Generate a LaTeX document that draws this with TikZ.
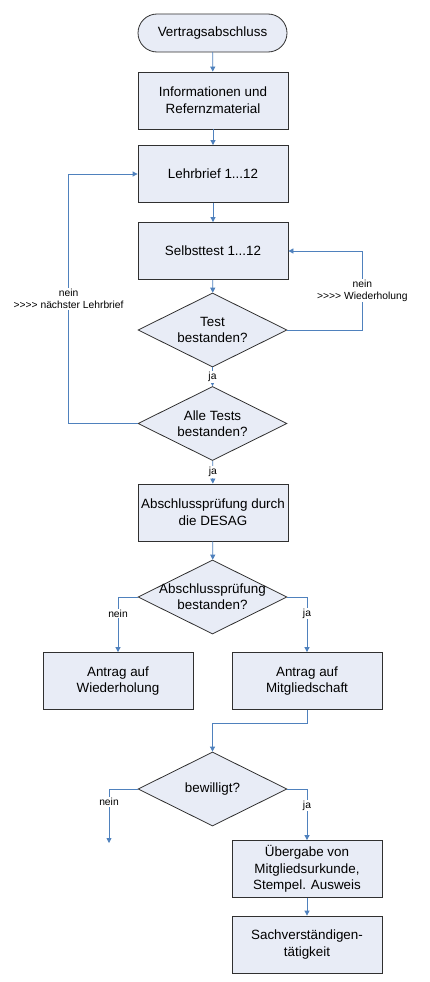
\documentclass[tikz,border=0pt]{standalone}
\usepackage{fontspec}
\setmainfont{Liberation Sans}
\usetikzlibrary{shapes.geometric}
\usetikzlibrary{arrows.meta}
\usetikzlibrary{positioning}
\definecolor{boxfill}{HTML}{E8ECF6}
\definecolor{flowblue}{HTML}{4F81BD}
\definecolor{boxline}{HTML}{303030}
\newcommand{\fourgt}{>\kern0pt>\kern0pt>\kern0pt>}

\begin{document}
\begin{tikzpicture}[x=1pt,y=-1pt,
  box/.style={draw=boxline, fill=boxfill, line width=0.8pt, minimum width=150pt,
    minimum height=57pt, inner sep=2pt, align=center, font=\fontsize{13.4}{16.75}\selectfont},
  term/.style={box, minimum width=149pt, minimum height=38pt, rounded corners=19pt},
  dec/.style={diamond, draw=boxline, fill=boxfill, line width=0.8pt,
    minimum width=149pt, minimum height=74pt, inner sep=0pt},
  dectext/.style={align=center, font=\fontsize{13.4}{16}\selectfont},
  arr/.style={draw=flowblue, line width=0.8pt, -{Triangle[length=5pt,width=5pt]}},
  lbl/.style={fill=white, inner sep=1pt, align=center, font=\fontsize{10.3}{12.3}\selectfont}]
\useasboundingbox[fill=white] (0,0) rectangle (430,982);

  \node[term] (start) at (212.5,33) {Vertragsabschluss};
  \node[box] (info) at (213,100.5) {Informationen und\\Refernzmaterial};
  \node[box] (lehr) at (213,174) {Lehrbrief 1...12};
  \node[box] (selbst) at (213,251) {Selbsttest 1...12};
  \node[dec, label={[dectext]center:Test\\bestanden?}] (test) at (212.5,330) {};
  \node[dec, label={[dectext]center:Alle Tests\\bestanden?}] (alle) at (212.5,423.5) {};
  \node[box] (absch) at (213,512.5) {Abschlussprüfung durch\\die DESAG};
  \node[dec, label={[dectext]center:Abschlussprüfung\\bestanden?}] (pruef) at (212.5,597) {};
  \node[box] (wied) at (118,681) {Antrag auf\\Wiederholung};
  \node[box] (mitg) at (307,681) {Antrag auf\\Mitgliedschaft};
  \node[dec, label={[dectext]center:bewilligt?}] (bew) at (212.5,789) {};
  \node[box] (ueber) at (307,869) {Übergabe von\\Mitgliedsurkunde,\\Stempel. Ausweis};
  \node[box] (sach) at (307,944.5) {Sachverständigen-\\tätigkeit};
  \coordinate (nend) at (109,843);

  \draw[arr] (start) -- (info);
  \draw[arr] (info) -- (lehr);
  \draw[arr] (lehr) -- (selbst);
  \draw[arr] (selbst) -- (test);
  \draw[arr] (test.east) -- ++(75,0) |- node[pos=0.25, lbl] {nein\\\fourgt{} Wiederholung} (selbst.east);
  \draw[arr] (test) -- node[lbl] {ja} (alle);
  \draw[arr] (alle.west) -- ++(-69,0) |- node[pos=0.25, lbl] {nein\\\fourgt{} nächster Lehrbrief} (lehr.west);
  \draw[arr] (alle) -- node[lbl] {ja} (absch);
  \draw[arr] (absch) -- (pruef);
  \draw[arr] (pruef.west) -| node[pos=0.65, lbl] {nein} (wied.north);
  \draw[arr] (pruef.east) -| node[pos=0.65, lbl] {ja} (mitg.north);
  \draw[arr] (mitg.south) -- ++(0,13) -| (bew.north);
  \draw[arr] (bew.west) -| node[pos=0.62, lbl] {nein} (nend);
  \draw[arr] (bew.east) -| node[pos=0.66, lbl] {ja} (ueber.north);
  \draw[arr] (ueber) -- (sach);
\end{tikzpicture}
\end{document}
